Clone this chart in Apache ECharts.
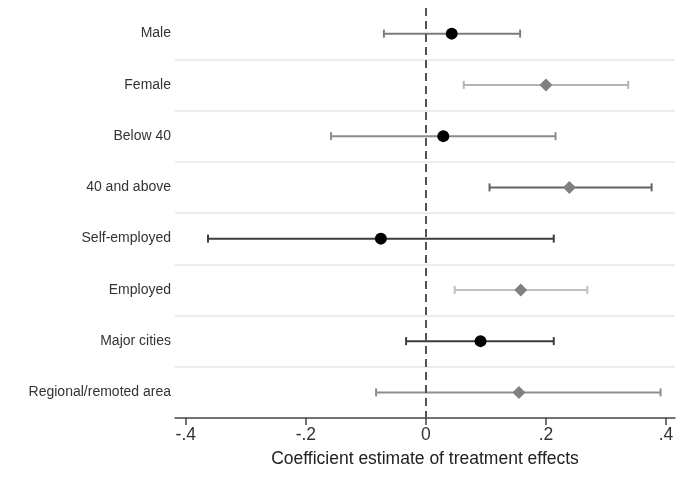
<!DOCTYPE html>
<html>
<head>
<meta charset="utf-8">
<script src="https://cdn.jsdelivr.net/npm/echarts@6/dist/echarts.min.js"></script>
<style>
  html, body { margin: 0; padding: 0; background: #fff; }
  #chart { width: 685px; height: 477px; }
</style>
</head>
<body>
<div id="chart"></div>
<script>
// Subgroup estimates of the treatment effect with 95% confidence intervals
const categories = ['Male', 'Female', 'Below 40', '40 and above',
                    'Self-employed', 'Employed', 'Major cities', 'Regional/remoted area'];
const estimates = [0.043, 0.200, 0.029, 0.239, -0.075, 0.158, 0.091, 0.155];
const ciLower   = [-0.070, 0.063, -0.158, 0.106, -0.363, 0.048, -0.033, -0.083];
const ciUpper   = [0.157, 0.337, 0.216, 0.376, 0.213, 0.269, 0.213, 0.391];
const xTicks    = [-0.4, -0.2, 0, 0.2, 0.4];

// Drawing styles per row (marker shape, whisker colour)
const markerShapes = ['circle', 'diamond', 'circle', 'diamond', 'circle', 'diamond', 'circle', 'diamond'];
const whiskerColors = ['#7c7c7c', '#b4b4b4', '#8c8c8c', '#626262', '#3c3c3c', '#c0c0c0', '#3c3c3c', '#8e8e8e'];
const markerColors = { circle: '#000000', diamond: '#808080' };

const font = 'Liberation Sans, Arial, Helvetica, sans-serif';

function fmtTick(v) {
  if (Math.abs(v) < 1e-9) return '0';
  return (v < 0 ? '-' : '') + String(Math.abs(v)).replace(/^0/, '');
}

// [lower, upper, row index]
const ciData = categories.map((c, i) => [ciLower[i], ciUpper[i], i]);
const pointData = categories.map((c, i) => ({
  value: [estimates[i], i],
  symbol: markerShapes[i],
  symbolSize: markerShapes[i] === 'circle' ? 12 : 13,
  itemStyle: { color: markerColors[markerShapes[i]], opacity: 1 }
}));

const chart = echarts.init(document.getElementById('chart'), null, { renderer: 'canvas' });
chart.setOption({
  animation: false,
  backgroundColor: '#ffffff',
  grid: { left: 175, right: 10, top: 8, bottom: 59, containLabel: false },
  xAxis: {
    type: 'value',
    min: -0.418,
    max: 0.415,
    name: 'Coefficient estimate of treatment effects',
    nameLocation: 'middle',
    nameGap: 32,
    nameTextStyle: { fontFamily: font, fontSize: 17.5, color: '#222' },
    axisLine: { show: true, lineStyle: { color: '#444', width: 1.5 } },
    axisTick: { show: true, length: 7, customValues: xTicks, lineStyle: { color: '#444', width: 1.5 } },
    axisLabel: {
      customValues: xTicks,
      formatter: fmtTick,
      fontFamily: font, fontSize: 17.5, color: '#333', margin: 8
    },
    splitLine: { show: false }
  },
  yAxis: {
    type: 'category',
    data: categories,
    inverse: true,
    boundaryGap: true,
    axisLine: { show: false },
    axisTick: { show: false },
    axisLabel: { fontFamily: font, fontSize: 14, color: '#333', margin: 4 },
    splitLine: {
      show: true,
      showMinLine: false,
      showMaxLine: false,
      lineStyle: { color: '#e6e6e6', width: 1.5 }
    }
  },
  series: [
    {
      type: 'custom',
      name: 'CI',
      coordinateSystem: 'cartesian2d',
      data: ciData,
      renderItem: function (params, api) {
        const i = api.value(2);
        const a = api.coord([api.value(0), i]);
        const b = api.coord([api.value(1), i]);
        const cap = 4;
        const style = { stroke: whiskerColors[i], lineWidth: 2, fill: null };
        return {
          type: 'group',
          children: [
            { type: 'line', shape: { x1: a[0], y1: a[1], x2: b[0], y2: b[1] }, style: style },
            { type: 'line', shape: { x1: a[0], y1: a[1] - cap, x2: a[0], y2: a[1] + cap }, style: style },
            { type: 'line', shape: { x1: b[0], y1: b[1] - cap, x2: b[0], y2: b[1] + cap }, style: style }
          ]
        };
      },
      z: 2
    },
    {
      type: 'scatter',
      name: 'Estimate',
      data: pointData,
      markLine: {
        silent: true,
        symbol: ['none', 'none'],
        label: { show: false },
        lineStyle: { color: '#555', width: 2, type: [8, 5] },
        data: [{ xAxis: 0 }]
      },
      z: 3
    }
  ]
});
</script>
</body>
</html>
